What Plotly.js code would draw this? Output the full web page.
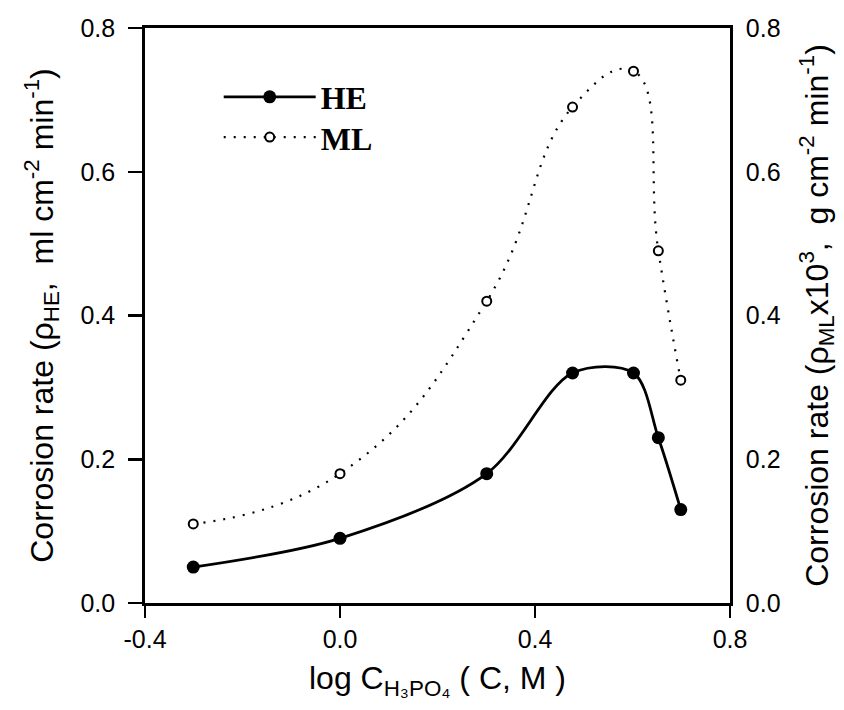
<!DOCTYPE html>
<html>
<head>
<meta charset="utf-8">
<script src="https://cdn.plot.ly/plotly-3.0.1.min.js"></script>
<style>html,body{margin:0;padding:0;background:#fff;}#chart{width:844px;height:710px;}</style>
</head>
<body>
<div id="chart"></div>
<script>
const logC = [-0.301, 0.0, 0.301, 0.477, 0.602, 0.653, 0.699];
const rateHE = [0.05, 0.09, 0.18, 0.32, 0.32, 0.23, 0.13];
const rateML = [0.11, 0.18, 0.42, 0.69, 0.74, 0.49, 0.31];
const xTicks = [-0.4, 0.0, 0.4, 0.8];
const yTicks = [0.0, 0.2, 0.4, 0.6, 0.8];

const traces = [
  {
    x: logC, y: rateHE, name: 'HE', type: 'scatter', mode: 'lines+markers',
    line: {color: '#000', width: 2.8, shape: 'spline', smoothing: 0.9},
    marker: {color: '#000', size: 13, symbol: 'circle'},
    xaxis: 'x', yaxis: 'y', legend: 'legend'
  },
  {
    x: logC, y: rateML, name: 'ML', type: 'scatter', mode: 'lines+markers',
    line: {color: '#000', width: 2.2, shape: 'spline', smoothing: 1.3, dash: '2px,8px'},
    marker: {color: '#fff', size: 9, symbol: 'circle', line: {color: '#000', width: 2}},
    xaxis: 'x', yaxis: 'y2', legend: 'legend2'
  }
];

const tickFont = {family: 'Liberation Sans, Arial, sans-serif', size: 25, color: '#000'};
const titleFont = {family: 'Liberation Sans, Arial, sans-serif', size: 32, color: '#000'};
const legFont = {family: 'Liberation Serif, Times New Roman, serif', size: 32, color: '#000', weight: 'bold'};

const layout = {
  width: 844, height: 710,
  margin: {l: 145, r: 114, t: 28, b: 107},
  paper_bgcolor: '#fff', plot_bgcolor: '#fff',
  showlegend: true,
  legend: {
    x: 0.126, y: 0.88, xanchor: 'left', yanchor: 'middle',
    font: legFont, bgcolor: 'rgba(0,0,0,0)', itemwidth: 92
  },
  legend2: {
    x: 0.126, y: 0.81, xanchor: 'left', yanchor: 'middle',
    font: legFont, bgcolor: 'rgba(0,0,0,0)', itemwidth: 92
  },
  xaxis: {
    range: [-0.4, 0.8], tickvals: xTicks, ticktext: xTicks.map(v => v.toFixed(1)),
    showgrid: false, zeroline: false, showline: true, linecolor: '#000', linewidth: 2.8,
    mirror: true, ticks: 'outside', ticklen: 12, tickwidth: 2.5, tickcolor: '#000',
    tickfont: tickFont,
    title: {text: 'log C<sub>H₃PO₄</sub> ( C, M )', font: titleFont, standoff: 15}
  },
  yaxis: {
    range: [0, 0.8], tickvals: yTicks, ticktext: yTicks.map(v => v.toFixed(1)),
    showgrid: false, zeroline: false, showline: true, linecolor: '#000', linewidth: 2.8,
    ticks: 'outside', ticklen: 14, tickwidth: 2.5, tickcolor: '#000',
    tickfont: tickFont, ticklabelstandoff: 8,
    title: {text: 'Corrosion rate (ρ<sub>HE</sub>,  ml cm<sup>-2</sup> min<sup>-1</sup>)', font: titleFont, standoff: 18}
  },
  yaxis2: {
    range: [0, 0.8], tickvals: yTicks, ticktext: yTicks.map(v => v.toFixed(1)),
    overlaying: 'y', side: 'right',
    showgrid: false, zeroline: false, showline: true, linecolor: '#000', linewidth: 2.8,
    ticks: 'outside', ticklen: 8, tickwidth: 1, tickcolor: 'rgba(0,0,0,0)',
    tickfont: tickFont,
    title: {text: 'Corrosion rate (ρ<sub>ML</sub>x10<sup>3</sup>,  g cm<sup>-2</sup> min<sup>-1</sup>)', font: titleFont, standoff: 26}
  }
};

Plotly.newPlot('chart', traces, layout, {displayModeBar: false, staticPlot: true});
</script>
</body>
</html>
